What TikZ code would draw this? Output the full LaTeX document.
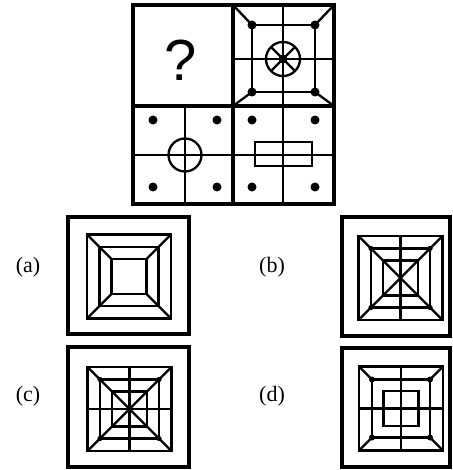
\documentclass[tikz,border=0pt]{standalone}
\usepackage{fontspec}
\setmainfont{Liberation Serif}
\newfontfamily\qfont{Liberation Sans}
\tikzset{
  thick3/.style={line width=3.2pt},
  thin2/.style={line width=2.3pt},
  lab/.style={font=\fontsize{22}{24}\selectfont, inner sep=0pt},
}
\begin{document}
\begin{tikzpicture}[x=1pt,y=-1pt]
\useasboundingbox (0,0) rectangle (452,470);
\begin{scope}
\clip (0,0) rectangle (452,470);
% ---------- top grid ----------
\draw[thin2] (283,5) -- (283,204);
\draw[thin2] (233,59) -- (334,59);
\draw[thin2] (133,155) -- (334,155);
\draw[thin2] (185,106) -- (185,204);
% top-right cell
\draw[thin2] (252,25) rectangle (315,92);
\draw[thin2] (233,5) -- (252,25) (334,5) -- (315,25) (233,106) -- (252,92) (334,106) -- (315,92);
\draw[thin2] (283,59) circle (17);
\draw[thin2] (283,59) -- ++(45:17) (283,59) -- ++(135:17) (283,59) -- ++(225:17) (283,59) -- ++(315:17);
\foreach \p in {(252,25),(315,25),(252,92),(315,92)} \fill \p circle (4.5);
\fill (283,59) circle (4.5);
% bottom-left cell
\draw[thin2] (185,155) circle (16.5);
\foreach \p in {(153,120),(217,120),(153,187),(217,187)} \fill \p circle (4.5);
% bottom-right cell
\draw[thin2] (255,142) rectangle (312,166);
\foreach \p in {(252,120),(315,120),(252,187),(315,187)} \fill \p circle (4.5);
% outer + dividers
\draw[thick3] (133,5) rectangle (334,204);
\draw[thick3] (233,5) -- (233,204);
\draw[thick3] (133,106) -- (334,106);
\node[font=\qfont\fontsize{58}{60}\selectfont, inner sep=0pt] (q) at (181,60) {?};
% ---------- option a ----------
\begin{scope}[shift={(129,276.5)}]
\draw[thin2] (-42,-42) rectangle (42,42);
\draw[thin2] (-29.5,-29.5) rectangle (29.5,29.5);
\draw[thin2] (-17.5,-17.5) rectangle (17.5,17.5);
\draw[thin2] (-42,-42) -- (-17.5,-17.5) (42,-42) -- (17.5,-17.5) (-42,42) -- (-17.5,17.5) (42,42) -- (17.5,17.5);
\end{scope}
\draw[thick3] (68,217) rectangle (189,334);
% ---------- option b ----------
\begin{scope}[shift={(400.5,278)}]
\draw[thin2] (-42,-42) rectangle (42,42);
\draw[thin2] (-29.5,-29.5) rectangle (29.5,29.5);
\draw[thin2] (-17.5,-17.5) rectangle (17.5,17.5);
\draw[thin2] (0,-42) -- (0,42);
\draw[thin2] (-42,-42) -- (42,42) (42,-42) -- (-42,42);
\foreach \p in {(-29.5,-29.5),(29.5,-29.5),(-29.5,29.5),(29.5,29.5)} \fill \p circle (2.6);
\end{scope}
\draw[thick3] (342,217) rectangle (450,336);
% ---------- option c ----------
\begin{scope}[shift={(129.5,409)}]
\draw[thin2] (-42,-42) rectangle (42,42);
\draw[thin2] (-29.5,-29.5) rectangle (29.5,29.5);
\draw[thin2] (-17.5,-17.5) rectangle (17.5,17.5);
\draw[thin2] (0,-42) -- (0,42) (-42,0) -- (42,0);
\draw[thin2] (-42,-42) -- (42,42) (42,-42) -- (-42,42);
\foreach \p in {(-29.5,-29.5),(29.5,-29.5),(-29.5,29.5),(29.5,29.5)} \fill \p circle (2.6);
\end{scope}
\draw[thick3] (68,347) rectangle (189,467);
% ---------- option d ----------
\begin{scope}[shift={(401,408.5)}]
\draw[thin2] (-42,-42) rectangle (42,42);
\draw[thin2] (-29,-29) rectangle (29,29);
\draw[thin2] (-17.5,-17.5) rectangle (17.5,17.5);
\draw[thin2] (0,-42) -- (0,42) (-42,0) -- (42,0);
\draw[thin2] (-42,-42) -- (-29,-29) (42,-42) -- (29,-29) (-42,42) -- (-29,29) (42,42) -- (29,29);
\foreach \p in {(-29,-29),(29,-29),(-29,29),(29,29)} \fill \p circle (3);
\end{scope}
\draw[thick3] (342,348) rectangle (450,467);
\end{scope}
% labels
\node[lab] (la) at (28,267) {(a)};
\node[lab] (lb) at (272,267) {(b)};
\node[lab] (lc) at (28,396) {(c)};
\node[lab] (ld) at (272,396) {(d)};
\end{tikzpicture}
\end{document}
